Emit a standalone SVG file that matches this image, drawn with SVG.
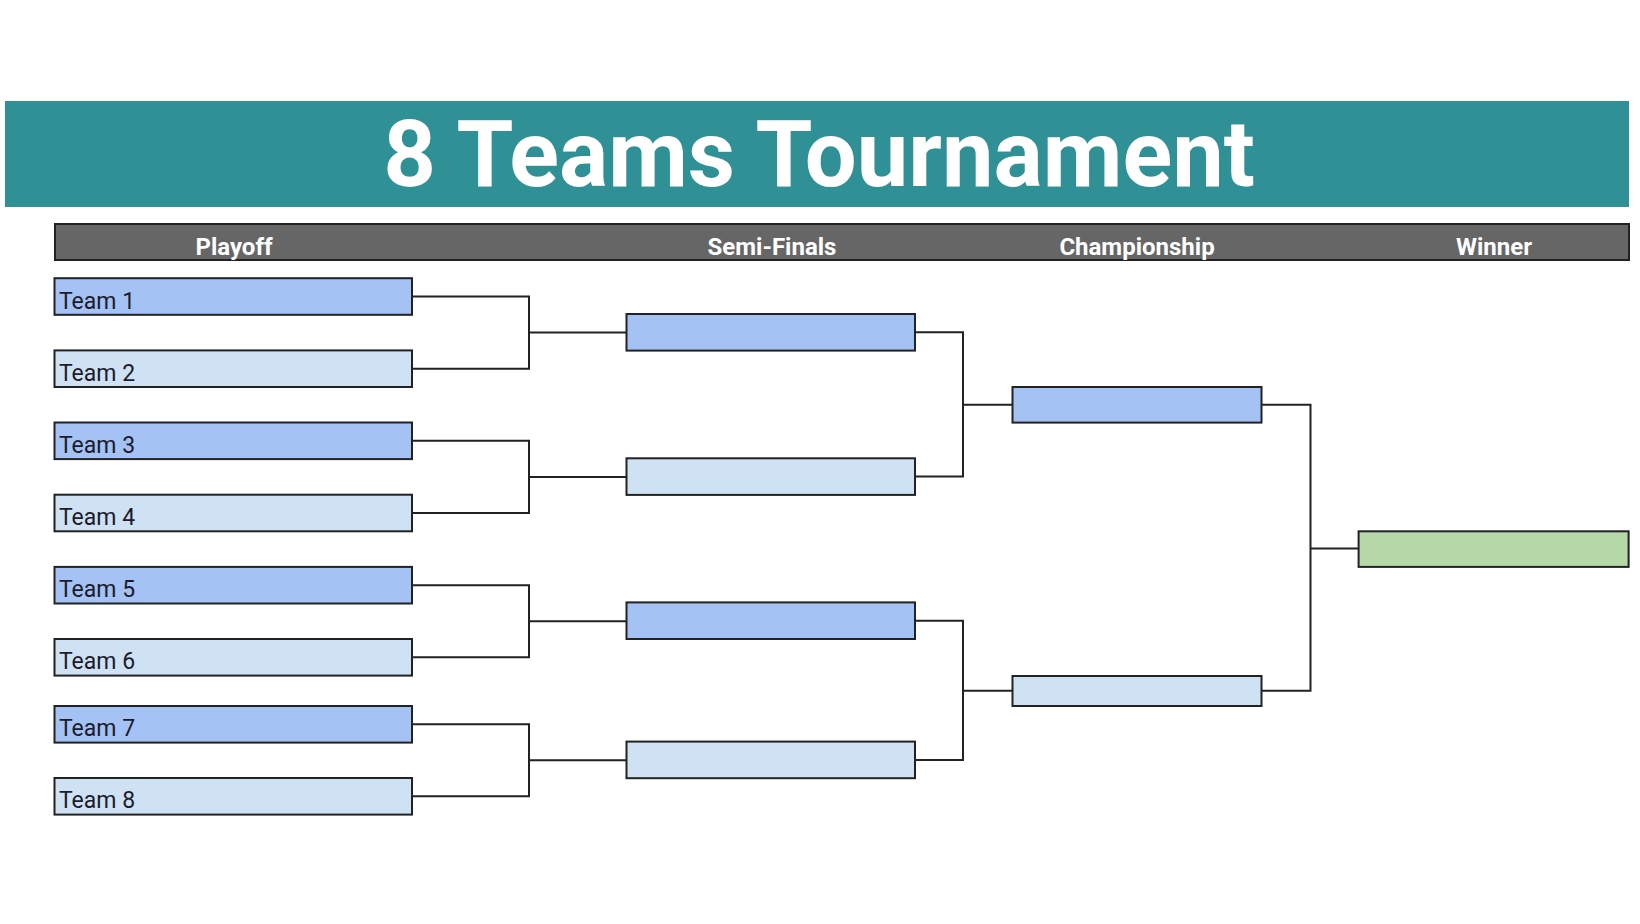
<svg xmlns="http://www.w3.org/2000/svg" width="1640" height="924" viewBox="0 0 1640 924">
<style>
.box{stroke:#222;stroke-width:2}
.dk{fill:#a4c2f4}
.lt{fill:#cfe2f3}
.gr{fill:#b6d7a8}
.team{font-family:Roboto,"Liberation Sans",sans-serif;font-size:23px;fill:#1c1c2c}
.hdr{font-family:Roboto,"Liberation Sans",sans-serif;font-size:24px;font-weight:bold;fill:#ffffff;text-anchor:middle}
.conn{fill:none;stroke:#222;stroke-width:2}
</style>
<rect width="1640" height="924" fill="#ffffff"/>
<g id="title">
<rect x="5" y="101" width="1624" height="106" fill="#2f9096"/>
<text x="819" y="185.5" font-family="Roboto,'Liberation Sans',sans-serif" font-size="92" font-weight="bold" fill="#ffffff" text-anchor="middle">8 Teams Tournament</text>
</g>
<g id="header">
<rect x="55" y="224" width="1574" height="36" fill="#666666" stroke="#222" stroke-width="2"/>
<text class="hdr" x="234" y="254.5">Playoff</text>
<text class="hdr" x="772" y="254.5">Semi-Finals</text>
<text class="hdr" x="1137" y="254.5">Championship</text>
<text class="hdr" x="1494" y="254.5">Winner</text>
</g>
<g id="connectors">
<path class="conn" d="M412 296.5H529V368.7H412M529 332.6H626.5"/>
<path class="conn" d="M412 440.8H529V513H412M529 476.9H626.5"/>
<path class="conn" d="M412 585.2H529V657.3H412M529 621.2H626.5"/>
<path class="conn" d="M412 724.3H529V796.3H412M529 760.3H626.5"/>
<path class="conn" d="M915 332.3H963V476.6H915M963 404.8H1012.5"/>
<path class="conn" d="M915 620.7H963V759.9H915M963 690.8H1012.5"/>
<path class="conn" d="M1261.5 404.8H1310.5V690.8H1261.5M1310.5 548.6H1358.6"/>
</g>
<g id="team1"><rect class="box dk" x="54.5" y="278.2" width="357.5" height="36.6"/><text class="team" x="59" y="308.5">Team 1</text></g>
<g id="team2"><rect class="box lt" x="54.5" y="350.4" width="357.5" height="36.6"/><text class="team" x="59" y="380.5">Team 2</text></g>
<g id="team3"><rect class="box dk" x="54.5" y="422.5" width="357.5" height="36.6"/><text class="team" x="59" y="452.5">Team 3</text></g>
<g id="team4"><rect class="box lt" x="54.5" y="494.7" width="357.5" height="36.6"/><text class="team" x="59" y="524.5">Team 4</text></g>
<g id="team5"><rect class="box dk" x="54.5" y="566.9" width="357.5" height="36.6"/><text class="team" x="59" y="596.5">Team 5</text></g>
<g id="team6"><rect class="box lt" x="54.5" y="639" width="357.5" height="36.6"/><text class="team" x="59" y="668.5">Team 6</text></g>
<g id="team7"><rect class="box dk" x="54.5" y="706" width="357.5" height="36.6"/><text class="team" x="59" y="735.5">Team 7</text></g>
<g id="team8"><rect class="box lt" x="54.5" y="778" width="357.5" height="36.6"/><text class="team" x="59" y="807.5">Team 8</text></g>
<g id="semi1"><rect class="box dk" x="626.5" y="314" width="288.5" height="36.6"/></g>
<g id="semi2"><rect class="box lt" x="626.5" y="458.3" width="288.5" height="36.6"/></g>
<g id="semi3"><rect class="box dk" x="626.5" y="602.4" width="288.5" height="36.6"/></g>
<g id="semi4"><rect class="box lt" x="626.5" y="741.6" width="288.5" height="36.6"/></g>
<g id="champ1"><rect class="box dk" x="1012.5" y="387" width="249" height="35.6"/></g>
<g id="champ2"><rect class="box lt" x="1012.5" y="676" width="249" height="30"/></g>
<g id="winner"><rect class="box gr" x="1358.6" y="531.3" width="270" height="35.6"/></g>
</svg>
